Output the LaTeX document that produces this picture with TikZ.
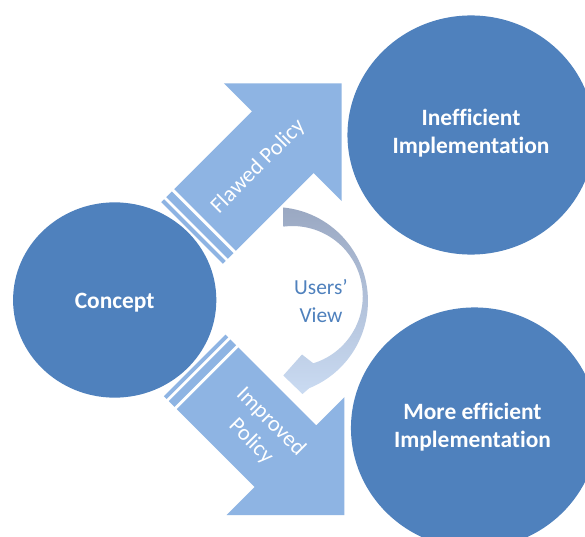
\documentclass[tikz,border=0pt]{standalone}
\usepackage{fontspec}
\setmainfont{Carlito}[Ligatures=NoCommon]
\usetikzlibrary{shapes.geometric}
\definecolor{bubblue}{HTML}{4F81BD}
\definecolor{arrblue}{HTML}{8EB4E3}
\definecolor{viewgray}{HTML}{9AA8C2}
\definecolor{viewlight}{HTML}{CADBF2}
\begin{document}
\begin{tikzpicture}[x=1bp,y=1bp,
    bubble/.style={ellipse,fill=bubblue,inner sep=0pt,minimum width=248,minimum height=240},
    bubtext/.style={text=white,align=center,font=\fontsize{23.5}{28.5}\selectfont\bfseries},
    arrtext/.style={text=white,align=center,font=\fontsize{22.5}{28}\selectfont},
    viewtext/.style={text=bubblue,align=center,font=\fontsize{21.5}{28.7}\selectfont}]
    \path[use as bounding box,fill=white] (0,0) rectangle (585,-537);
    \foreach \nm/\x/\y/\ang/\txt in {flawed/341.7/-83.3/45/{Flawed Policy},improved/344.3/-515/-45/{Improved\\Policy}}{
        \begin{scope}[shift={(\x,\y)},rotate=\ang]
            \fill[arrblue] (-193.3,43.6) -- (-83.3,43.6) -- (-83.3,83.3) -- (0,0) -- (-83.3,-83.3) -- (-83.3,-43.6) -- (-193.3,-43.6) -- cycle;
            \fill[arrblue] (-196.6,-43.6) rectangle (-204.6,43.6);
            \fill[arrblue] (-207.6,-43.6) rectangle (-211.6,43.6);
            \node[arrtext,rotate=\ang] (\nm) at (-118,0) {\txt};
        \end{scope}
    }
    \shade[top color=viewgray,bottom color=viewlight] (283.3,-207.5) arc[start angle=84.3,end angle=-68,radius=94]
        -- (302.5,-394) -- (283.3,-375.5) -- (302,-354.5) -- (313.3,-363.3)
        arc[start angle=-72.8,end angle=97.5,radius=70.2] -- cycle;
    \node[viewtext] (view) at (321,-301) {Users’\\View};
    \node[bubble,minimum width=204,minimum height=196] (concept) at (114.7,-300) {};
    \node[bubble] (ineff) at (471,-135) {};
    \node[bubble,minimum height=242] (moreeff) at (474.5,-428) {};
    \node[bubtext] (concept-txt) at ([yshift=-2.5]concept.center) {Concept};
    \node[bubtext] (ineff-txt) at ([yshift=2]ineff.center) {Inefficient\\Implementation};
    \node[bubtext] (moreeff-txt) at ([yshift=1,xshift=-2]moreeff.center) {More efficient\\Implementation};
\end{tikzpicture}
\end{document}
